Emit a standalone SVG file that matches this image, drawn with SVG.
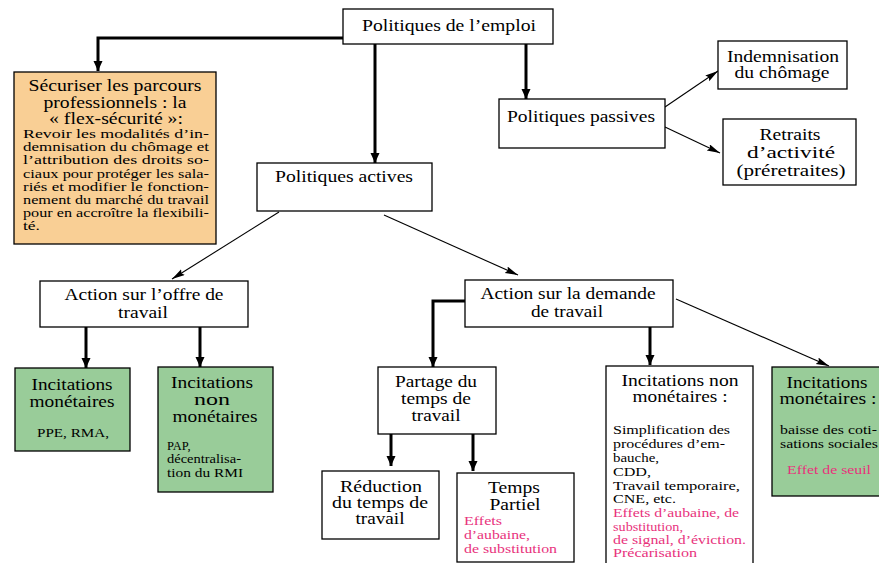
<svg xmlns="http://www.w3.org/2000/svg" width="879" height="563" viewBox="0 0 879 563" font-family="'Liberation Serif','Times New Roman',serif">
<defs>
<marker id="ah" markerUnits="userSpaceOnUse" markerWidth="11" markerHeight="10" refX="10" refY="4.5" orient="auto">
<path d="M0,0 L10,4.5 L0,9 z" fill="#000"/>
</marker>
<marker id="at" markerUnits="userSpaceOnUse" markerWidth="14" markerHeight="8" refX="13" refY="3.5" orient="auto">
<path d="M0,0 L13,3.5 L0,7 L2,3.5 z" fill="#000"/>
</marker>
</defs>
<style>
text{font-family:"Liberation Serif","Times New Roman",serif;fill:#000}
.t{font-size:16px;text-anchor:middle}
.s{font-size:12.5px}
.b{font-size:13px}
.p{fill:#E8327C}
.c{text-anchor:middle}
rect{stroke:#000;stroke-width:1.3}
.w{fill:#fff}
.o{fill:#F9CF95}
.g{fill:#99CC99}
.k{fill:none;stroke:#000;stroke-width:3}
.n{fill:none;stroke:#000;stroke-width:1.1}
</style>
<rect width="879" height="563" fill="#fff" style="stroke:none"/>
<g id="connectors">
<path class="k" d="M343,38 H98 V71" marker-end="url(#ah)"/>
<path class="k" d="M375,44 V163" marker-end="url(#ah)"/>
<path class="k" d="M526,44 V99" marker-end="url(#ah)"/>
<path class="n" d="M665,107 L718,71" marker-end="url(#at)"/>
<path class="n" d="M665,127 L720,153" marker-end="url(#at)"/>
<path class="n" d="M279,212 L172,279" marker-end="url(#at)"/>
<path class="n" d="M384,215 L518,275" marker-end="url(#at)"/>
<path class="k" d="M86,327 V368" marker-end="url(#ah)"/>
<path class="k" d="M200,327 V367" marker-end="url(#ah)"/>
<path class="k" d="M465,301 H433 V367" marker-end="url(#ah)"/>
<path class="k" d="M391,434 V466" marker-end="url(#ah)"/>
<path class="k" d="M473,434 V471" marker-end="url(#ah)"/>
<path class="k" d="M650,327 V365" marker-end="url(#ah)"/>
<path class="n" d="M676,299 L829,366" marker-end="url(#at)"/>
</g>
<g id="n-emploi">
<rect class="w" x="343" y="9" width="210" height="35"/>
<text class="t" x="449" y="31" textLength="174" lengthAdjust="spacingAndGlyphs">Politiques de l’emploi</text>
</g>
<g id="n-flex">
<rect class="o" x="14" y="72" width="202" height="172"/>
<text class="t" x="115" y="91" textLength="173" lengthAdjust="spacingAndGlyphs">Sécuriser les parcours</text>
<text class="t" x="115" y="108" textLength="143" lengthAdjust="spacingAndGlyphs">professionnels : la</text>
<text class="t" x="116" y="124" textLength="134" lengthAdjust="spacingAndGlyphs">« flex-sécurité »:</text>
<text class="s" x="23" y="138" textLength="186" lengthAdjust="spacingAndGlyphs">Revoir les modalités d’in-</text>
<text class="s" x="23" y="151" textLength="186" lengthAdjust="spacingAndGlyphs">demnisation du chômage et</text>
<text class="s" x="23" y="164" textLength="186" lengthAdjust="spacingAndGlyphs">l’attribution des droits so-</text>
<text class="s" x="23" y="178" textLength="186" lengthAdjust="spacingAndGlyphs">ciaux pour protéger les sala-</text>
<text class="s" x="23" y="191" textLength="186" lengthAdjust="spacingAndGlyphs">riés et modifier le fonction-</text>
<text class="s" x="23" y="204" textLength="186" lengthAdjust="spacingAndGlyphs">nement du marché du travail</text>
<text class="s" x="23" y="217" textLength="186" lengthAdjust="spacingAndGlyphs">pour en accroître la flexibili-</text>
<text class="s" x="23" y="230" textLength="17" lengthAdjust="spacingAndGlyphs">té.</text>
</g>
<g id="n-passives">
<rect class="w" x="499" y="99" width="166" height="49"/>
<text class="t" x="581" y="122" textLength="148" lengthAdjust="spacingAndGlyphs">Politiques passives</text>
</g>
<g id="n-indem">
<rect class="w" x="718" y="41" width="129" height="48"/>
<text class="t" x="783" y="62" textLength="112" lengthAdjust="spacingAndGlyphs">Indemnisation</text>
<text class="t" x="782" y="78" textLength="95" lengthAdjust="spacingAndGlyphs">du chômage</text>
</g>
<g id="n-retraits">
<rect class="w" x="723" y="119" width="133" height="66"/>
<text class="t" x="790" y="140" textLength="61" lengthAdjust="spacingAndGlyphs">Retraits</text>
<text class="t" x="791" y="158" textLength="88" lengthAdjust="spacingAndGlyphs">d’activité</text>
<text class="t" x="791" y="176" textLength="109" lengthAdjust="spacingAndGlyphs">(préretraites)</text>
</g>
<g id="n-actives">
<rect class="w" x="257" y="163" width="175" height="48"/>
<text class="t" x="344" y="182" textLength="138" lengthAdjust="spacingAndGlyphs">Politiques actives</text>
</g>
<g id="n-offre">
<rect class="w" x="40" y="281" width="208" height="46"/>
<text class="t" x="144" y="300" textLength="159" lengthAdjust="spacingAndGlyphs">Action sur l’offre de</text>
<text class="t" x="143" y="318" textLength="50" lengthAdjust="spacingAndGlyphs">travail</text>
</g>
<g id="n-im1">
<rect class="g" x="15" y="368" width="115" height="83"/>
<text class="t" x="72" y="390" textLength="81" lengthAdjust="spacingAndGlyphs">Incitations</text>
<text class="t" x="72" y="407" textLength="85" lengthAdjust="spacingAndGlyphs">monétaires</text>
<text class="s c" x="73" y="437" textLength="72" lengthAdjust="spacingAndGlyphs">PPE, RMA,</text>
</g>
<g id="n-inm1">
<rect class="g" x="158" y="367" width="115" height="125"/>
<text class="t" x="212" y="388" textLength="82" lengthAdjust="spacingAndGlyphs">Incitations</text>
<text class="t" x="212" y="405" textLength="36" lengthAdjust="spacingAndGlyphs">non</text>
<text class="t" x="215" y="422" textLength="85" lengthAdjust="spacingAndGlyphs">monétaires</text>
<text class="s" x="167" y="450">PAP,</text>
<text class="s" x="167" y="463" textLength="74" lengthAdjust="spacingAndGlyphs">décentralisa-</text>
<text class="s" x="167" y="477" textLength="76" lengthAdjust="spacingAndGlyphs">tion du RMI</text>
</g>
<g id="n-demande">
<rect class="w" x="465" y="280" width="208" height="47"/>
<text class="t" x="568" y="299" textLength="175" lengthAdjust="spacingAndGlyphs">Action sur la demande</text>
<text class="t" x="567" y="317" textLength="72" lengthAdjust="spacingAndGlyphs">de travail</text>
</g>
<g id="n-partage">
<rect class="w" x="378" y="367" width="118" height="67"/>
<text class="t" x="436" y="387" textLength="82" lengthAdjust="spacingAndGlyphs">Partage du</text>
<text class="t" x="436" y="404" textLength="70" lengthAdjust="spacingAndGlyphs">temps de</text>
<text class="t" x="436" y="421" textLength="49" lengthAdjust="spacingAndGlyphs">travail</text>
</g>
<g id="n-reduction">
<rect class="w" x="322" y="471" width="117" height="68"/>
<text class="t" x="381" y="492" textLength="82" lengthAdjust="spacingAndGlyphs">Réduction</text>
<text class="t" x="380" y="508" textLength="96" lengthAdjust="spacingAndGlyphs">du temps de</text>
<text class="t" x="380" y="524" textLength="49" lengthAdjust="spacingAndGlyphs">travail</text>
</g>
<g id="n-partiel">
<rect class="w" x="457" y="473" width="117" height="89"/>
<text class="t" x="514" y="493" textLength="52" lengthAdjust="spacingAndGlyphs">Temps</text>
<text class="t" x="515" y="510" textLength="51" lengthAdjust="spacingAndGlyphs">Partiel</text>
<text class="b p" x="464" y="525" textLength="38" lengthAdjust="spacingAndGlyphs">Effets</text>
<text class="b p" x="464" y="539" textLength="66" lengthAdjust="spacingAndGlyphs">d’aubaine,</text>
<text class="b p" x="464" y="553" textLength="93" lengthAdjust="spacingAndGlyphs">de substitution</text>
</g>
<g id="n-inm2">
<rect class="w" x="606" y="366" width="147" height="200"/>
<text class="t" x="680" y="386" textLength="117" lengthAdjust="spacingAndGlyphs">Incitations non</text>
<text class="t" x="680" y="402" textLength="95" lengthAdjust="spacingAndGlyphs">monétaires :</text>
<text class="b" x="613" y="434" textLength="117" lengthAdjust="spacingAndGlyphs">Simplification des</text>
<text class="b" x="613" y="448" textLength="112" lengthAdjust="spacingAndGlyphs">procédures d’em-</text>
<text class="b" x="613" y="462" textLength="46" lengthAdjust="spacingAndGlyphs">bauche,</text>
<text class="b" x="613" y="476" textLength="38" lengthAdjust="spacingAndGlyphs">CDD,</text>
<text class="b" x="613" y="490" textLength="127" lengthAdjust="spacingAndGlyphs">Travail temporaire,</text>
<text class="b" x="613" y="503" textLength="63" lengthAdjust="spacingAndGlyphs">CNE, etc.</text>
<text class="b p" x="613" y="517" textLength="126" lengthAdjust="spacingAndGlyphs">Effets d’aubaine, de</text>
<text class="b p" x="613" y="531" textLength="70" lengthAdjust="spacingAndGlyphs">substitution,</text>
<text class="b p" x="613" y="544" textLength="133" lengthAdjust="spacingAndGlyphs">de signal, d’éviction.</text>
<text class="b p" x="613" y="557" textLength="84" lengthAdjust="spacingAndGlyphs">Précarisation</text>
</g>
<g id="n-im2">
<rect class="g" x="772" y="367" width="110" height="129"/>
<text class="t" x="827" y="388" textLength="81" lengthAdjust="spacingAndGlyphs">Incitations</text>
<text class="t" x="828" y="404" textLength="97" lengthAdjust="spacingAndGlyphs">monétaires :</text>
<text class="b" x="780" y="434" textLength="97" lengthAdjust="spacingAndGlyphs">baisse des coti-</text>
<text class="b" x="780" y="448" textLength="98" lengthAdjust="spacingAndGlyphs">sations sociales</text>
<text class="b p c" x="829" y="474" textLength="84" lengthAdjust="spacingAndGlyphs">Effet de seuil</text>
</g>
</svg>
